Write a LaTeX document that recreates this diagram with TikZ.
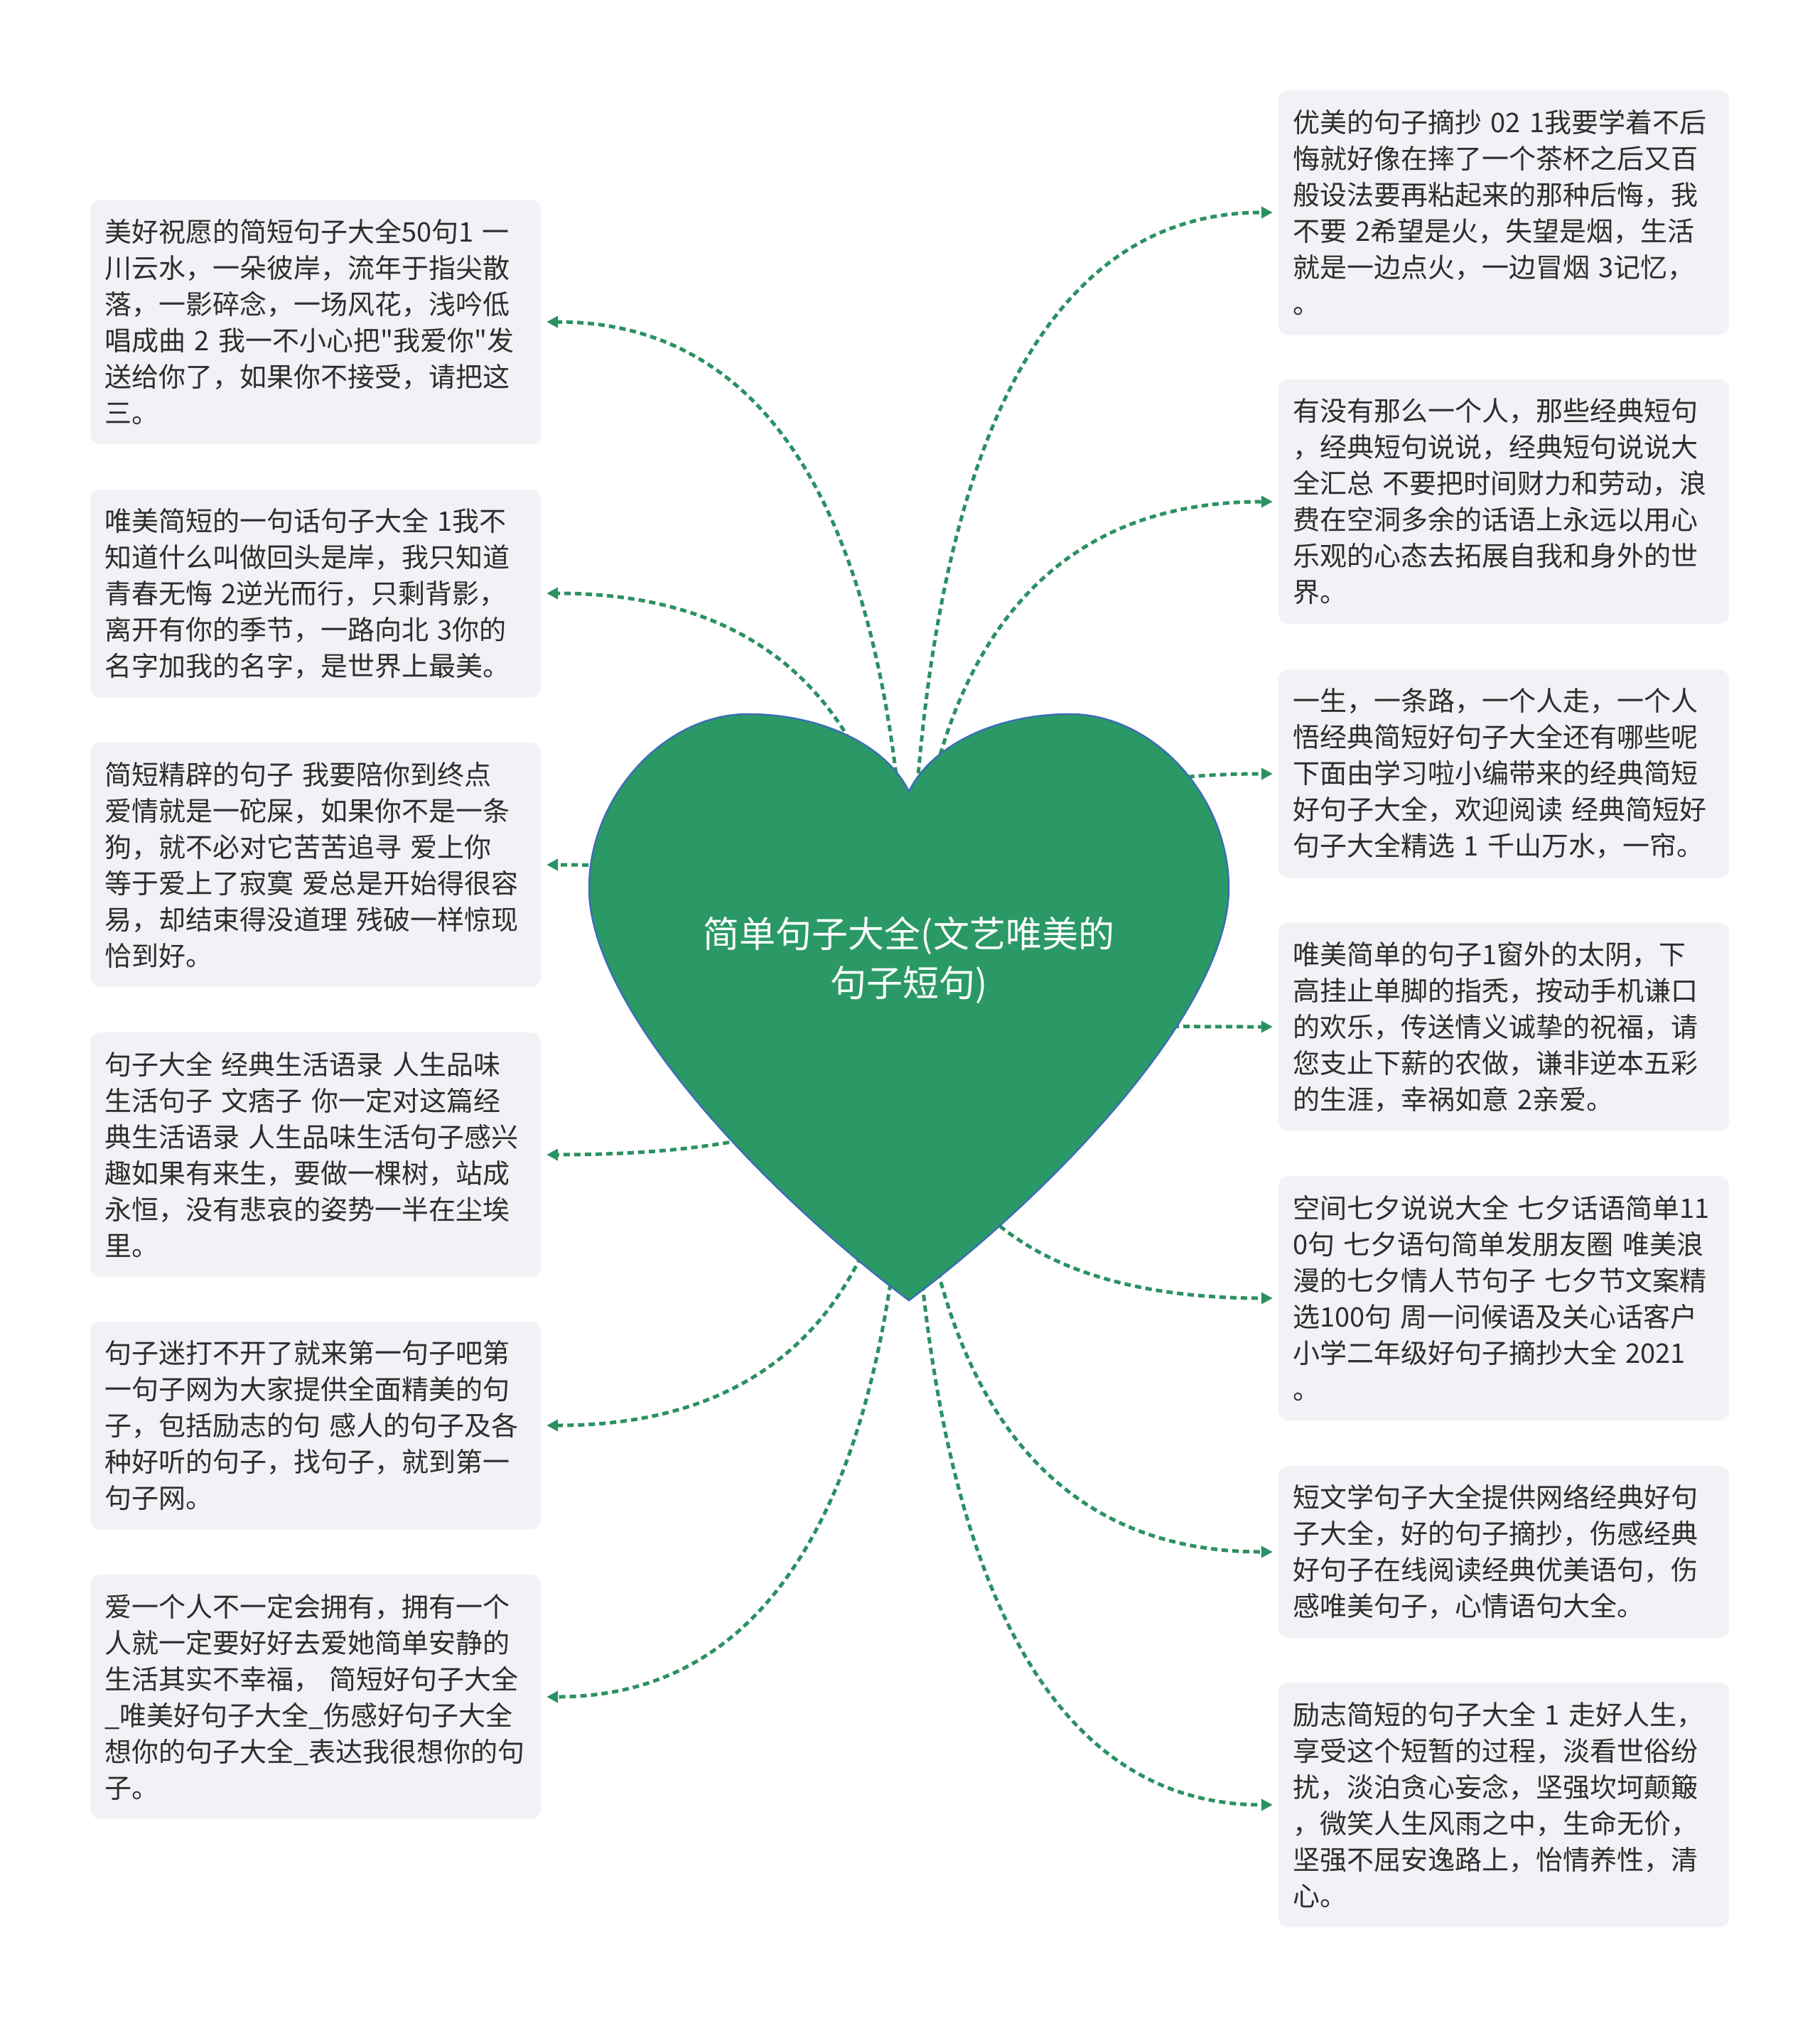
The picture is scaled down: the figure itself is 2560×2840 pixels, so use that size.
\documentclass[tikz,border=0pt]{standalone}
\usepackage{fontspec}
\setmainfont{Noto Sans CJK SC}
\newfontfamily\cjkplain{Noto Sans CJK SC}
\usetikzlibrary{arrows.meta,calc}
\definecolor{boxbg}{RGB}{240,242,245}
\definecolor{txt}{RGB}{45,45,45}
\definecolor{heartgreen}{RGB}{42,153,102}
\definecolor{heartline}{RGB}{60,110,180}
\definecolor{connc}{RGB}{43,145,98}
\begin{document}
\begin{tikzpicture}[x=1pt,y=-1pt,
  infobox/.style={fill=boxbg, rounded corners=14pt, text=txt, inner xsep=20pt, inner ysep=0pt,
    text width=594pt, align=left, minimum height=#1, font=\cjkplain\fontsize{38pt}{51pt}\selectfont},
  conn/.style={draw=connc, line width=5pt, dash pattern=on 9pt off 6pt,
    -{Triangle[length=16pt,width=16pt]}, shorten >=8pt},
  heartshape/.style={fill=heartgreen, draw=heartline, line width=2.5pt},
  hearttext/.style={text=white, align=center, font=\cjkplain\fontsize{51pt}{69pt}\selectfont}]
\useasboundingbox (0,0) rectangle (2560,2840);
\fill[white] (0,0) rectangle (2560,2840);

% left boxes
\node[infobox=344pt] (L1) at (444,453) {美好祝愿的简短句子大全50句1 一\\川云水，一朵彼岸，流年于指尖散\\落，一影碎念，一场风花，浅吟低\\唱成曲~2~我一不小心把"我爱你"发\\送给你了，如果你不接受，请把这\\三。};
\node[infobox=293pt] (L2) at (444,835) {唯美简短的一句话句子大全 1我不\\知道什么叫做回头是岸，我只知道\\青春无悔 2逆光而行，只剩背影，\\离开有你的季节，一路向北 3你的\\名字加我的名字，是世界上最美。};
\node[infobox=344pt] (L3) at (444,1217) {简短精辟的句子 我要陪你到终点\\爱情就是一砣屎，如果你不是一条\\狗，就不必对它苦苦追寻 爱上你\\等于爱上了寂寞 爱总是开始得很容\\易，却结束得没道理 残破一样惊现\\恰到好。};
\node[infobox=344pt] (L4) at (444,1625) {句子大全 经典生活语录 人生品味\\生活句子 文痞子 你一定对这篇经\\典生活语录 人生品味生活句子感兴\\趣如果有来生，要做一棵树，站成\\永恒，没有悲哀的姿势一半在尘埃\\里。};
\node[infobox=293pt] (L5) at (444,2006) {句子迷打不开了就来第一句子吧第\\一句子网为大家提供全面精美的句\\子，包括励志的句 感人的句子及各\\种好听的句子，找句子，就到第一\\句子网。};
\node[infobox=344pt] (L6) at (444,2388) {爱一个人不一定会拥有，拥有一个\\人就一定要好好去爱她简单安静的\\生活其实不幸福， 简短好句子大全\\\_唯美好句子大全\_伤感好句子大全\\想你的句子大全\_表达我很想你的句\\子。};

% right boxes
\node[infobox=344pt] (R1) at (2116,299) {优美的句子摘抄 02 1我要学着不后\\悔就好像在摔了一个茶杯之后又百\\般设法要再粘起来的那种后悔，我\\不要 2希望是火，失望是烟，生活\\就是一边点火，一边冒烟 3记忆，\\。};
\node[infobox=344pt] (R2) at (2116,706) {有没有那么一个人，那些经典短句\\，经典短句说说，经典短句说说大\\全汇总 不要把时间财力和劳动，浪\\费在空洞多余的话语上永远以用心\\乐观的心态去拓展自我和身外的世\\界。};
\node[infobox=293pt] (R3) at (2116,1089) {一生，一条路，一个人走，一个人\\悟经典简短好句子大全还有哪些呢\\下面由学习啦小编带来的经典简短\\好句子大全，欢迎阅读 经典简短好\\句子大全精选 1 千山万水，一帘。};
\node[infobox=293pt] (R4) at (2116,1445) {唯美简单的句子1窗外的太阴，下\\高挂止单脚的指秃，按动手机谦口\\的欢乐，传送情义诚挚的祝福，请\\您支止下薪的农做，谦非逆本五彩\\的生涯，幸祸如意 2亲爱。};
\node[infobox=344pt] (R5) at (2116,1827) {空间七夕说说大全 七夕话语简单11\\0句 七夕语句简单发朋友圈 唯美浪\\漫的七夕情人节句子 七夕节文案精\\选100句 周一问候语及关心话客户\\小学二年级好句子摘抄大全 2021\\。};
\node[infobox=242pt] (R6) at (2116,2184) {短文学句子大全提供网络经典好句\\子大全，好的句子摘抄，伤感经典\\好句子在线阅读经典优美语句，伤\\感唯美句子，心情语句大全。};
\node[infobox=344pt] (R7) at (2116,2540) {励志简短的句子大全 1 走好人生，\\享受这个短暂的过程，淡看世俗纷\\扰，淡泊贪心妄念，坚强坎坷颠簸\\，微笑人生风雨之中，生命无价，\\坚强不屈安逸路上，怡情养性，清\\心。};

\coordinate (hc) at (1279,1418);

% connectors
\foreach \n in {L1,L2,L3,L4,L5,L6}
  \draw[conn] (hc) .. controls ($(hc)!2/3!(hc |- \n.east)$) and ($(\n.east)!2/3!(hc |- \n.east)$) .. (\n.east);
\foreach \n in {R1,R2,R3,R4,R5,R6,R7}
  \draw[conn] (hc) .. controls ($(hc)!2/3!(hc |- \n.west)$) and ($(\n.west)!2/3!(hc |- \n.west)$) .. (\n.west);

% heart
\path[heartshape] (1279,1114)
  .. controls (1310,1050) and (1400,1005) .. (1506,1005)
  .. controls (1622,1005) and (1729,1120) .. (1729,1250)
  .. controls (1729,1420) and (1480,1680) .. (1279,1830)
  .. controls (1078,1680) and (829,1420) .. (829,1250)
  .. controls (829,1120) and (936,1005) .. (1052,1005)
  .. controls (1158,1005) and (1248,1050) .. (1279,1114) -- cycle;

\node[hearttext] (center) at (1279,1351) {简单句子大全(文艺唯美的\\句子短句)};
\end{tikzpicture}
\end{document}
